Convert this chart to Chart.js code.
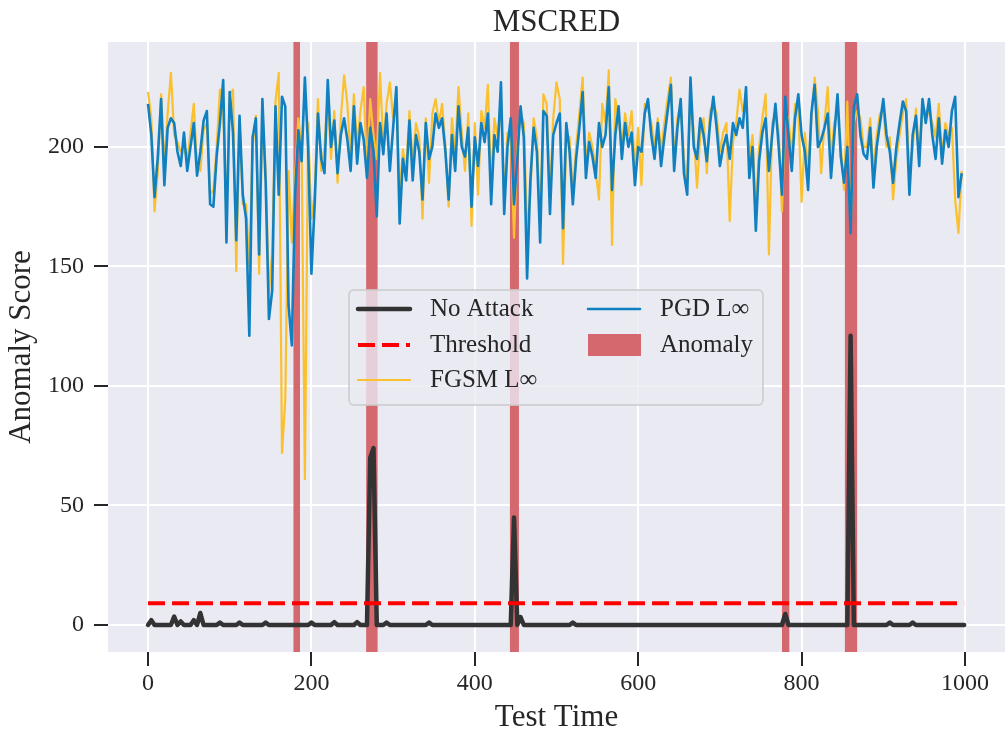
<!DOCTYPE html>
<html>
<head>
<meta charset="utf-8">
<script src="https://cdn.jsdelivr.net/npm/chart.js@4.4.1/dist/chart.umd.min.js"></script>
<style>
  html, body { margin: 0; padding: 0; background: #fff; }
  canvas { display: block; }
</style>
</head>
<body>
<canvas id="chart" width="1005" height="730"></canvas>
<script>
const STEP = 4;
const testTime = Array.from({ length: 250 }, (_, i) => i * STEP);

const fgsmScore = [
  223, 212, 173, 190, 222, 192, 214, 231, 205, 202,
  198, 200, 194, 206, 218, 192, 190, 207, 210, 180,
  182, 200, 224, 215, 170, 222, 224, 148, 210, 176,
  176, 150, 200, 213, 147, 214, 190, 139, 156, 219,
  231, 72, 94, 190, 160, 188, 212, 200, 61, 210,
  170, 180, 220, 190, 200, 222, 195, 215, 185, 212,
  230, 218, 195, 222, 200, 215, 225, 190, 220, 205,
  195, 231, 200, 218, 227, 212, 220, 180, 199, 190,
  215, 192, 210, 204, 170, 212, 185, 214, 220, 210,
  218, 200, 175, 212, 198, 225, 206, 190, 214, 167,
  210, 180, 215, 208, 226, 184, 212, 204, 220, 178,
  206, 205, 162, 200, 214, 210, 165, 180, 212, 204,
  168, 222, 218, 180, 212, 227, 220, 151, 205, 204,
  180, 200, 214, 229, 192, 206, 200, 190, 178, 218,
  210, 232, 159, 220, 212, 200, 214, 205, 215, 190,
  208, 184, 218, 216, 210, 200, 212, 198, 210, 220,
  229, 194, 212, 218, 195, 186, 222, 206, 183, 205,
  212, 189, 215, 218, 214, 198, 206, 210, 169, 202,
  210, 224, 215, 220, 195, 205, 172, 200, 212, 222,
  155, 210, 214, 206, 173, 215, 212, 196, 218, 216,
  177, 206, 190, 212, 229, 215, 189, 210, 225, 195,
  210, 215, 200, 182, 219, 165, 210, 215, 212, 200,
  200, 212, 190, 205, 214, 215, 200, 204, 178, 195,
  205, 214, 220, 188, 200, 216, 196, 216, 215, 214,
  210, 204, 218, 196, 210, 205, 208, 178, 164, 190
];

const pgdScore = [
  218, 205, 179, 196, 220, 184, 208, 212, 210, 198,
  192, 206, 190, 200, 210, 188, 198, 211, 215, 176,
  175, 196, 210, 228, 160, 223, 206, 161, 213, 180,
  170, 121, 204, 212, 155, 220, 185, 128, 140, 217,
  180, 221, 217, 134, 117, 180, 207, 194, 229, 199,
  147, 176, 214, 195, 189, 228, 200, 211, 189, 205,
  212, 203, 190, 217, 193, 210, 203, 187, 208, 198,
  171, 210, 197, 214, 190, 208, 225, 168, 195, 186,
  211, 186, 205, 198, 178, 210, 195, 200, 214, 208,
  212, 198, 178, 205, 190, 217, 200, 196, 208, 175,
  204, 192, 210, 202, 214, 176, 205, 198, 227, 172,
  200, 212, 176, 195, 217, 204, 145, 186, 208, 198,
  160, 215, 213, 172, 205, 210, 214, 166, 210, 198,
  176, 195, 208, 223, 187, 202, 196, 187, 210, 200,
  205, 225, 182, 205, 217, 195, 210, 200, 206, 184,
  200, 198, 214, 220, 205, 195, 210, 192, 204, 215,
  226, 190, 208, 220, 189, 180, 229, 200, 195, 212,
  205, 194, 210, 221, 208, 192, 200, 205, 195, 210,
  205, 212, 208, 225, 187, 200, 165, 194, 206, 212,
  190, 205, 218, 200, 180, 221, 205, 190, 212, 222,
  205, 198, 182, 214, 226, 200, 203, 208, 214, 187,
  205, 222, 196, 185, 200, 164, 217, 222, 205, 197,
  195, 208, 183, 200, 210, 220, 205, 198, 185, 200,
  210, 219, 215, 180, 205, 213, 192, 220, 210, 220,
  205, 195, 212, 193, 207, 200, 215, 221, 179, 189
];

// no attack score is 0 almost everywhere, only the changes are listed
const noAttackTime = [
  0, 4, 8, 28, 32, 36, 40, 44, 52, 56, 60, 64, 68, 84, 88, 92,
  108, 112, 116, 140, 144, 148, 196, 200, 204, 224, 228, 232,
  252, 256, 260, 268, 272, 276, 280, 288, 292, 296, 340, 344, 348,
  444, 448, 452, 456, 460, 516, 520, 524, 776, 780, 784,
  856, 860, 864, 904, 908, 912, 932, 936, 940, 999
];
const noAttackScore = [
  0, 2, 0, 0, 3.5, 0, 1.5, 0, 0, 2, 0, 5, 0, 0, 1, 0,
  0, 1, 0, 0, 1, 0, 0, 1, 0, 0, 1.2, 0,
  0, 1.2, 0, 0, 70, 74, 0, 0, 1, 0, 0, 1, 0,
  0, 45, 0, 3.3, 0, 0, 1, 0, 0, 4.6, 0,
  0, 121, 0, 0, 1, 0, 0, 1, 0, 0
];

const thresholdTime = [0, 999];
const thresholdScore = [9.1, 9.1];

const anomalyStart = [178, 267, 443, 776, 853];
const anomalyEnd = [186, 281, 454, 785, 868];

const xTicks = [0, 200, 400, 600, 800, 1000];
const yTicks = [0, 50, 100, 150, 200];

const TITLE = 'MSCRED';
const TEXT = '#262626';
const ANOMALY_COLOR = '#D5676F';
const SERIF = "'Liberation Serif', 'Times New Roman', serif";
Chart.defaults.font.family = SERIF;
Chart.defaults.color = TEXT;

const toPoints = (xs, ys) => xs.map((x, i) => ({ x: x, y: ys[i] }));

// grey axes background like seaborn darkgrid
const backgroundPlugin = {
  id: 'background',
  beforeDraw(chart) {
    const { ctx, chartArea: a } = chart;
    ctx.save();
    ctx.fillStyle = '#fff';
    ctx.fillRect(0, 0, chart.width, chart.height);
    ctx.fillStyle = '#EAEAF2';
    ctx.fillRect(a.left, a.top, a.right - a.left, a.bottom - a.top);
    ctx.restore();
  }
};

const anomalyPlugin = {
  id: 'anomalyBands',
  beforeDatasetsDraw(chart) {
    const { ctx, chartArea: a, scales: { x } } = chart;
    ctx.save();
    ctx.fillStyle = ANOMALY_COLOR;
    anomalyStart.forEach((s, i) => {
      const x0 = x.getPixelForValue(s);
      const x1 = x.getPixelForValue(anomalyEnd[i]);
      ctx.fillRect(x0, a.top, x1 - x0, a.bottom - a.top);
    });
    ctx.restore();
  }
};

// title centred over the plot area, not the whole canvas
const titlePlugin = {
  id: 'axesTitle',
  afterDraw(chart) {
    const { ctx, chartArea: a } = chart;
    ctx.save();
    ctx.font = '31px ' + SERIF;
    ctx.fillStyle = TEXT;
    ctx.textAlign = 'center';
    ctx.textBaseline = 'middle';
    ctx.fillText(TITLE, (a.left + a.right) / 2, 22.5);
    ctx.restore();
  }
};

// matplotlib style legend: two columns, filled column by column
const legendOrder = ['No Attack', 'Threshold', 'FGSM L∞', 'PGD L∞', 'Anomaly'];
const legendPlugin = {
  id: 'boxLegend',
  afterDraw(chart) {
    const ctx = chart.ctx;
    ctx.save();
    ctx.beginPath();
    ctx.roundRect(349, 290, 414, 115, 5);
    ctx.fillStyle = 'rgba(234,234,242,0.8)';
    ctx.fill();
    ctx.lineWidth = 2;
    ctx.strokeStyle = 'rgba(204,204,204,0.8)';
    ctx.stroke();

    const cols = [358, 588];
    const rows = [309, 345, 380];
    ctx.font = '25px ' + SERIF;
    ctx.textBaseline = 'middle';
    legendOrder.forEach((label, i) => {
      const hx = cols[Math.floor(i / 3)];
      const hy = rows[i % 3];
      const ds = chart.data.datasets.find(d => d.label === label);
      if (ds) {
        ctx.beginPath();
        ctx.setLineDash(ds.borderDash || []);
        ctx.lineWidth = ds.borderWidth;
        ctx.strokeStyle = ds.borderColor;
        ctx.lineCap = ds.borderDash ? 'butt' : 'round';
        ctx.moveTo(hx, hy);
        ctx.lineTo(hx + 52, hy);
        ctx.stroke();
        ctx.setLineDash([]);
      } else {
        ctx.fillStyle = ANOMALY_COLOR;
        ctx.fillRect(hx, hy - 11, 53, 22);
      }
      ctx.fillStyle = TEXT;
      ctx.fillText(label, hx + 72, hy);
    });
    ctx.restore();
  }
};

new Chart(document.getElementById('chart'), {
  type: 'line',
  data: {
    datasets: [
      {
        label: 'PGD L∞',
        data: toPoints(testTime, pgdScore),
        borderColor: '#1080C0',
        borderWidth: 2.6,
        order: 0
      },
      {
        label: 'FGSM L∞',
        data: toPoints(testTime, fgsmScore),
        borderColor: '#FBC02D',
        borderWidth: 2.2,
        order: 1
      },
      {
        label: 'Threshold',
        data: toPoints(thresholdTime, thresholdScore),
        borderColor: '#FF0000',
        borderWidth: 4,
        borderDash: [17, 7],
        order: 2
      },
      {
        label: 'No Attack',
        data: toPoints(noAttackTime, noAttackScore),
        borderColor: '#333333',
        borderWidth: 4.5,
        borderCapStyle: 'round',
        order: 3
      }
    ]
  },
  options: {
    responsive: false,
    animation: false,
    layout: { padding: { top: 42, left: 0, right: 0, bottom: 0 } },
    elements: {
      point: { radius: 0 },
      line: { tension: 0, borderJoinStyle: 'round', fill: false }
    },
    plugins: {
      legend: { display: false },
      tooltip: { enabled: false },
      title: { display: false }
    },
    scales: {
      x: {
        type: 'linear',
        min: -49,
        max: 1049,
        afterBuildTicks: s => { s.ticks = xTicks.map(v => ({ value: v })); },
        afterFit: s => { s.height = 78; },
        border: { display: false },
        grid: { color: '#fff', lineWidth: 2, tickColor: TEXT, tickLength: 14, tickWidth: 2 },
        ticks: {
          autoSkip: false, maxRotation: 0, padding: 3,
          font: { size: 24 }, color: TEXT,
          callback: v => String(v)
        },
        title: {
          display: true, text: 'Test Time', color: TEXT,
          font: { size: 31, lineHeight: 0.8 },
          padding: { top: 0, bottom: 0 }
        }
      },
      y: {
        type: 'linear',
        min: -11.3,
        max: 243.9,
        afterBuildTicks: s => { s.ticks = yTicks.map(v => ({ value: v })); },
        afterFit: s => { s.width = 108; },
        border: { display: false },
        grid: { color: '#fff', lineWidth: 2, tickColor: TEXT, tickLength: 14, tickWidth: 2 },
        ticks: {
          autoSkip: false, padding: 10,
          font: { size: 24 }, color: TEXT,
          callback: v => String(v)
        },
        title: {
          display: true, text: 'Anomaly Score', color: TEXT,
          font: { size: 31, lineHeight: 0.8 },
          padding: { top: 9, bottom: 0 }
        }
      }
    }
  },
  plugins: [backgroundPlugin, anomalyPlugin, legendPlugin, titlePlugin]
});
</script>
</body>
</html>
